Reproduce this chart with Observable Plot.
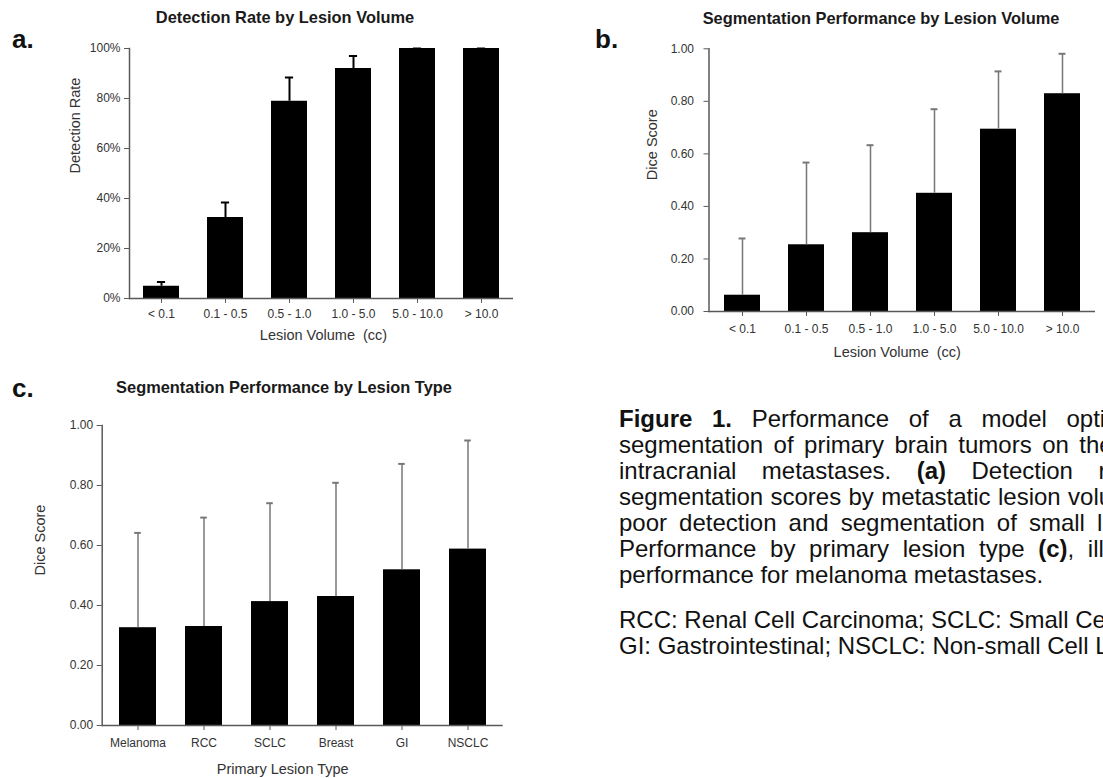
<!DOCTYPE html>
<html><head><meta charset="utf-8">
<script src="https://cdn.jsdelivr.net/npm/d3@7"></script>
<script src="https://cdn.jsdelivr.net/npm/@observablehq/plot@0.6"></script>
<style>
html,body{margin:0;padding:0;background:#fff;}
#root{position:relative;width:1103px;height:778px;overflow:hidden;font-family:"Liberation Sans",Arial,sans-serif;background:#fff;}
.abs{position:absolute;white-space:nowrap;line-height:1;}
.title{font-weight:bold;font-size:16.4px;color:#1a1a1a;text-align:center;width:420px;}
.panel{font-weight:bold;font-size:26px;color:#111;}
.cap{font-size:24px;color:#111;}
.chart{position:absolute;}
</style></head><body><div id="root"></div>
<script>
// ---- data ----
const volumeBins = ["< 0.1", "0.1 - 0.5", "0.5 - 1.0", "1.0 - 5.0", "5.0 - 10.0", "> 10.0"];
const detectionRate = [0.049, 0.324, 0.789, 0.920, 1.000, 1.000];
const detectionUpper = [0.066, 0.384, 0.884, 0.970, 1.000, 1.000];
const diceByVolume = [0.062, 0.254, 0.300, 0.450, 0.694, 0.829];
const diceByVolumeUpper = [0.278, 0.567, 0.633, 0.770, 0.914, 0.981];
const lesionTypes = ["Melanoma", "RCC", "SCLC", "Breast", "GI", "NSCLC"];
const diceByType = [0.326, 0.330, 0.413, 0.430, 0.519, 0.588];
const diceByTypeUpper = [0.642, 0.693, 0.741, 0.809, 0.872, 0.950];
const yTicks = [0, 0.2, 0.4, 0.6, 0.8, 1.0];

const titles = {
  a: "Detection Rate by Lesion Volume",
  b: "Segmentation Performance by Lesion Volume",
  c: "Segmentation Performance by Lesion Type"
};
const captionLines = [
  '<b>Figure 1.</b> Performance of a model optimized for',
  'segmentation of primary brain tumors on the task of',
  'intracranial metastases. <b>(a)</b> Detection rates and <b>(b)</b>',
  'segmentation scores by metastatic lesion volume, showing',
  'poor detection and segmentation of small lesions.',
  'Performance by primary lesion type <b>(c)</b>, illustrating lowest',
  'performance for melanoma metastases.',
  'RCC: Renal Cell Carcinoma; SCLC: Small Cell Lung Cancer;',
  'GI: Gastrointestinal; NSCLC: Non-small Cell Lung Cancer'
];
const captionBaselines = [427, 453, 479, 505, 531, 557, 583, 628, 654];
const captionSpacing = [13, 3.8, 18.8, 0.7, 5.4, 7, 0, 0, 0];

const root = document.getElementById("root");
function addDiv(cls, html, left, top, extra) {
  const d = document.createElement("div");
  d.className = "abs " + cls;
  d.innerHTML = html;
  d.style.left = left + "px";
  d.style.top = top + "px";
  if (extra) Object.assign(d.style, extra);
  root.appendChild(d);
  return d;
}

const AX = "#595959";
function barChart(o) {
  const data = o.cats.map((c, i) => ({cat: c, v: o.values[i], up: o.uppers[i]}));
  const bw = (o.width - o.ml - o.mr) / o.cats.length * 0.56;
  const capInset = (bw - o.capW) / 2;
  const svg = Plot.plot({
    width: o.width, height: o.height,
    marginLeft: o.ml, marginRight: o.mr, marginTop: o.mt, marginBottom: o.mb,
    style: {fontFamily: "'Liberation Sans', Arial, sans-serif", fontSize: "12px", color: "#333", background: "transparent"},
    x: {domain: o.cats, paddingInner: 0.44, paddingOuter: 0.22},
    y: {domain: [0, 1]},
    marks: [
      Plot.barY(data, {x: "cat", y: "v", fill: "#000"}),
      Plot.ruleX(data, {x: "cat", y1: "v", y2: "up", stroke: o.errColor, strokeWidth: o.errW}),
      Plot.tickY(data, {x: "cat", y: "up", stroke: o.errColor, strokeWidth: o.capSW, insetLeft: capInset, insetRight: capInset}),
      Plot.ruleY([0], {stroke: AX, strokeWidth: 1.5}),
      Plot.frame({anchor: "left", stroke: AX, strokeWidth: 1.5}),
      Plot.axisY({ticks: yTicks, tickFormat: o.yFormat, tickSize: 5, tickPadding: o.yPad, label: null, color: "#333", stroke: AX, fontSize: 12}),
      Plot.axisX({tickSize: 5, tickPadding: o.xPad, label: null, color: "#333", stroke: AX, fontSize: 12}),
      Plot.text([o.yLabel], {text: d => d, frameAnchor: "left", dx: -o.yLabOff, rotate: -90, fontSize: 14.5, fill: "#333", lineAnchor: "middle"}),
      Plot.text([o.xLabel], {text: d => d, frameAnchor: "bottom", dy: o.xLabDy, dx: o.xLabDx || 0, fontSize: 14.5, fill: "#333", lineAnchor: "middle"})
    ]
  });
  svg.classList.add("chart");
  svg.style.left = o.left + "px";
  svg.style.top = o.top + "px";
  svg.style.position = "absolute";
  root.appendChild(svg);
}

barChart({
  cats: volumeBins, values: detectionRate, uppers: detectionUpper,
  left: 0, top: 30, width: 540, height: 330, ml: 129, mr: 27, mt: 18, mb: 62,
  yFormat: d3.format(".0%"), yPad: 4, xPad: 5.5,
  yLabel: "Detection Rate", xLabel: "Lesion Volume  (cc)", yLabOff: 54, xLabDy: 36.5, xLabDx: 2,
  errColor: "#000", errW: 2, capW: 8, capSW: 2
});
barChart({
  cats: volumeBins, values: diceByVolume, uppers: diceByVolumeUpper,
  left: 560, top: 30, width: 543, height: 340, ml: 148.5, mr: 8, mt: 18.3, mb: 59,
  yFormat: d3.format(".2f"), yPad: 10, xPad: 7.5,
  yLabel: "Dice Score", xLabel: "Lesion Volume  (cc)", yLabOff: 56.5, xLabDy: 40.5, xLabDx: -5,
  errColor: "#777", errW: 1.5, capW: 7, capSW: 2
});
barChart({
  cats: lesionTypes, values: diceByType, uppers: diceByTypeUpper,
  left: 0, top: 400, width: 560, height: 378, ml: 101.7, mr: 57.3, mt: 25, mb: 53,
  yFormat: d3.format(".2f"), yPad: 4, xPad: 7.5,
  yLabel: "Dice Score", xLabel: "Primary Lesion Type", yLabOff: 61.7, xLabDy: 43.5, xLabDx: -20,
  errColor: "#777", errW: 1.5, capW: 7, capSW: 2
});

// titles & panel letters
addDiv("title", titles.a, 75, 9.3);
addDiv("title", titles.b, 671, 10.3);
addDiv("title", titles.c, 74, 379.3);
addDiv("panel", "a.", 12, 26);
addDiv("panel", "b.", 595, 26);
addDiv("panel", "c.", 12, 375);

// caption
captionLines.forEach((t, i) => {
  addDiv("cap", t, 619, captionBaselines[i] - 20.3, {wordSpacing: captionSpacing[i] + "px"});
});
</script></body></html>
